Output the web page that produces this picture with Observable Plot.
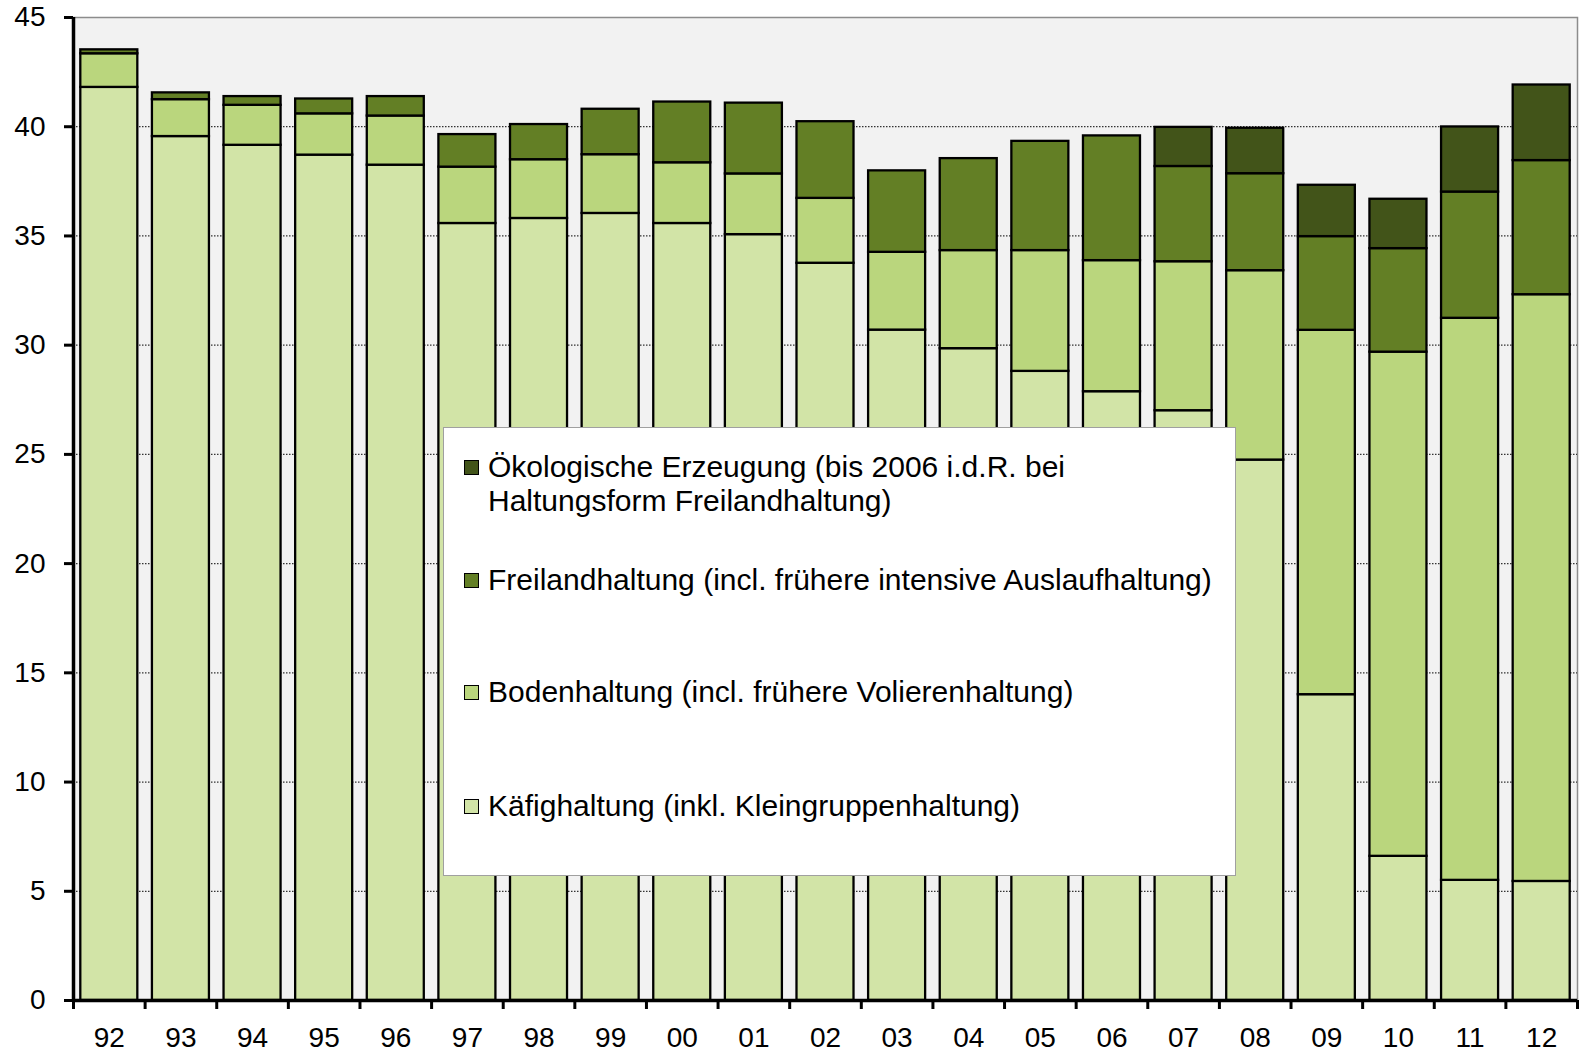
<!DOCTYPE html>
<html><head><meta charset="utf-8">
<script src="https://cdn.jsdelivr.net/npm/d3@7"></script>
<script src="https://cdn.jsdelivr.net/npm/@observablehq/plot@0.6"></script>
<style>
body{margin:0;background:#fff;}
#wrap{position:relative;width:1585px;height:1052px;font-family:"Liberation Sans",Arial,sans-serif;}
#legend{position:absolute;left:443px;top:427px;width:793px;height:449px;background:#fff;border:1px solid #a0a0a0;box-sizing:border-box;}
.item{position:absolute;left:0;font-size:30px;line-height:34px;color:#000;white-space:pre-line;padding-left:44px;}
.sw{position:absolute;left:20px;top:10px;width:13px;height:13px;border:1.5px solid #000;}
</style></head><body><div id="wrap"></div>
<script>
const years = ["92","93","94","95","96","97","98","99","00","01","02","03","04","05","06","07","08","09","10","11","12"];
const series = [
  "Käfighaltung (inkl. Kleingruppenhaltung)",
  "Bodenhaltung (incl. frühere Volierenhaltung)",
  "Freilandhaltung (incl. frühere intensive Auslaufhaltung)",
  "Ökologische Erzeugung (bis 2006 i.d.R. bei Haltungsform Freilandhaltung)"
];
const legendLabels = [
  "Käfighaltung (inkl. Kleingruppenhaltung)",
  "Bodenhaltung (incl. frühere Volierenhaltung)",
  "Freilandhaltung (incl. frühere intensive Auslaufhaltung)",
  "Ökologische Erzeugung (bis 2006 i.d.R. bei\nHaltungsform Freilandhaltung)"
];
const kaefig   = [41.8, 39.55, 39.15, 38.7, 38.24, 35.57, 35.8, 36.03, 35.57, 35.06, 33.75, 30.69, 29.84, 28.8, 27.87, 27.0, 24.74, 14.0, 6.6, 5.5, 5.45];
const boden    = [1.54, 1.69, 1.83, 1.89, 2.25, 2.58, 2.69, 2.69, 2.78, 2.78, 2.97, 3.56, 4.49, 5.53, 6.0, 6.82, 8.67, 16.68, 23.08, 25.73, 26.86];
const freiland = [0.18, 0.31, 0.4, 0.68, 0.89, 1.49, 1.61, 2.08, 2.78, 3.24, 3.51, 3.73, 4.21, 5.0, 5.71, 4.36, 4.44, 4.29, 4.74, 5.78, 6.14];
const oeko     = [0, 0, 0, 0, 0, 0, 0, 0, 0, 0, 0, 0, 0, 0, 0, 1.79, 2.08, 2.35, 2.26, 2.98, 3.46];
const colors = ["#d2e4a7", "#bad67d", "#637f25", "#425419"];
const yTicks = [0, 5, 10, 15, 20, 25, 30, 35, 40, 45];

const cols = [kaefig, boden, freiland, oeko];
const data = [];
years.forEach((yr, i) => series.forEach((s, k) => data.push({i, year: yr, series: s, value: cols[k][i]})));

const chart = Plot.plot({
  width: 1585, height: 1052,
  marginLeft: 73, marginRight: 8, marginTop: 17, marginBottom: 52,
  x: {domain: [0, years.length], axis: null, label: null},
  y: {domain: [0, 45], axis: null, label: null},
  color: {domain: series, range: colors},
  style: {fontFamily: "Liberation Sans, Arial, sans-serif", background: "#fff", color: "#000"},
  marks: [
    Plot.frame({fill: "#f2f2f2", stroke: "#8c8c8c", strokeWidth: 1.5}),
    Plot.ruleY(yTicks.filter(v => v > 0 && v < 45), {stroke: "#333", strokeDasharray: "1.5,1.5", strokeWidth: 1.2}),
    Plot.rectY(data, {x1: d => d.i, x2: d => d.i + 1, y: "value", fill: "series", order: series, stroke: "#000", strokeWidth: 2.3, insetLeft: 7.3, insetRight: 7.3}),
    Plot.ruleX([0], {stroke: "#000", strokeWidth: 3.5}),
    Plot.ruleY([0], {stroke: "#000", strokeWidth: 3.5}),
    Plot.axisY({ticks: yTicks, label: null, tickSize: 9, tickPadding: 19, fontSize: 28, strokeWidth: 3, stroke: "#000", fill: "#000"}),
    Plot.axisX({ticks: d3.range(years.length + 1), label: null, tickSize: 9, tickFormat: () => "", strokeWidth: 3, stroke: "#000"}),
    Plot.text(years, {x: (d, i) => i + 0.5, y: 0, text: d => d, dy: 38, fontSize: 28, fill: "#000"})
  ]
});
const wrap = document.getElementById("wrap");
wrap.appendChild(chart);

const legend = document.createElement("div");
legend.id = "legend";
const tops = [361, 247, 135, 22];
[3, 2, 1, 0].forEach(k => {
  const it = document.createElement("div");
  it.className = "item";
  it.style.top = tops[k] + "px";
  it.textContent = legendLabels[k];
  const sw = document.createElement("div");
  sw.className = "sw";
  sw.style.background = colors[k];
  it.appendChild(sw);
  legend.appendChild(it);
});
wrap.appendChild(legend);
</script>
</body></html>
